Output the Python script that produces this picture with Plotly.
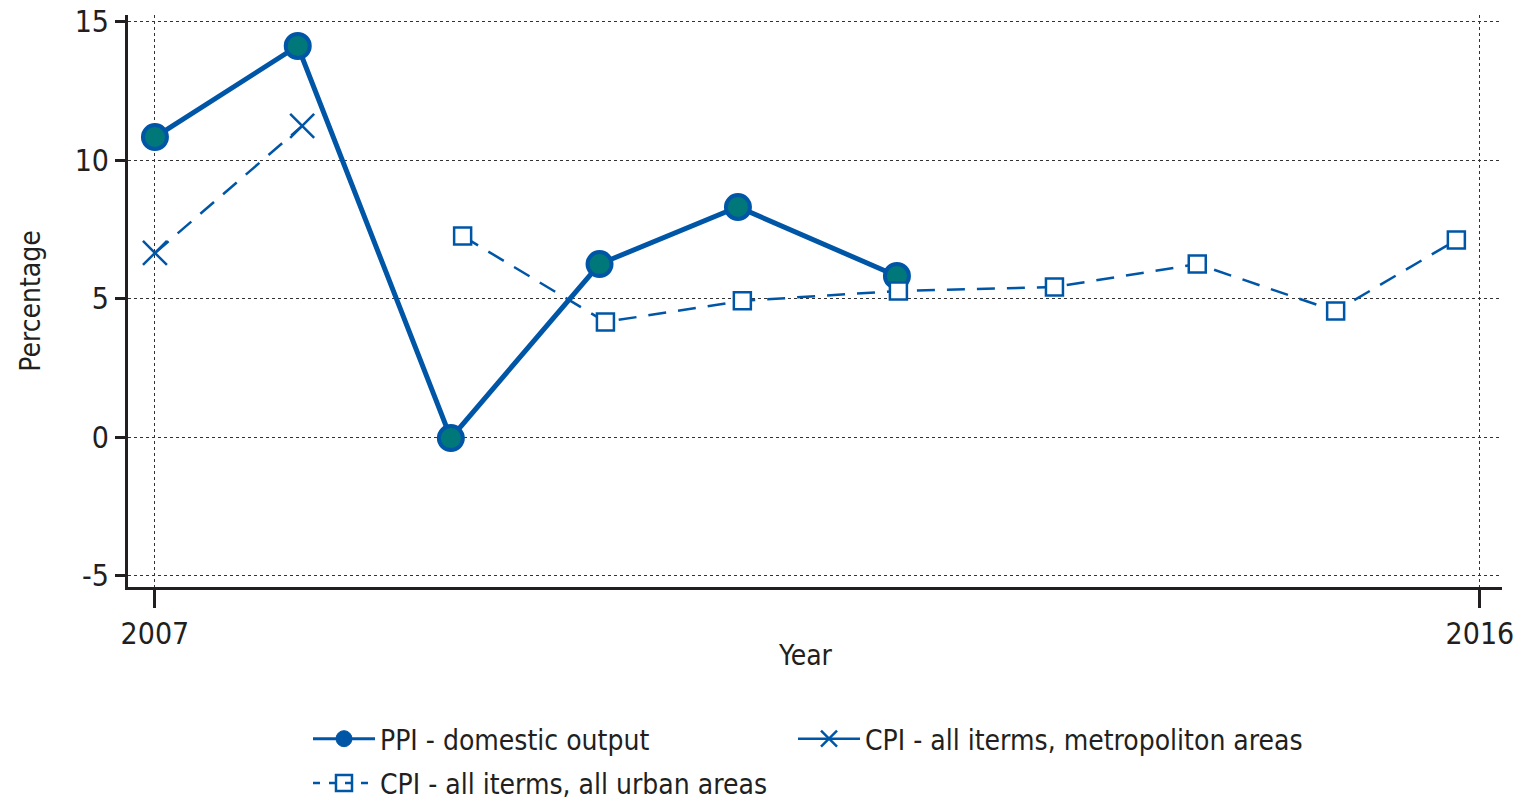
import plotly.graph_objects as go

# Annual change, percent
ppi_years = [2007.0, 2007.97, 2009.01, 2010.02, 2010.96, 2012.04]
ppi_values = [10.84, 14.13, -0.04, 6.25, 8.31, 5.82]

metro_years = [2007.0, 2008.0]
metro_values = [6.65, 11.24]

urban_years = [2009.09, 2010.06, 2010.99, 2012.05, 2013.11, 2014.08, 2015.02, 2015.84]
urban_values = [7.26, 4.16, 4.92, 5.28, 5.42, 6.25, 4.55, 7.12]

x_ticks = [2007, 2016]
y_ticks = [-5, 0, 5, 10, 15]

BLUE = "#0056a6"
TEAL = "#00787a"
INK = "#231f20"
FONT = "Liberation Sans Narrow, DejaVu Sans Condensed, Arial Narrow, sans-serif"
DASH = "18px,12px"

fig = go.Figure()

fig.add_trace(go.Scatter(
    x=ppi_years, y=ppi_values, mode="lines+markers",
    name="PPI - domestic output", showlegend=False,
    line=dict(color=BLUE, width=5),
    marker=dict(symbol="circle", size=24, color=TEAL, line=dict(color=BLUE, width=4)),
))

fig.add_trace(go.Scatter(
    x=metro_years, y=metro_values, mode="lines+markers",
    name="CPI - all iterms, metropoliton areas", showlegend=False,
    line=dict(color=BLUE, width=2.5, dash=DASH),
    marker=dict(symbol="x-thin", size=24, color=BLUE, line=dict(color=BLUE, width=2.5)),
))

fig.add_trace(go.Scatter(
    x=urban_years, y=urban_values, mode="lines+markers",
    name="CPI - all iterms, all urban areas", showlegend=False,
    line=dict(color=BLUE, width=2.5, dash=DASH),
    marker=dict(symbol="square", size=17, color="white", line=dict(color=BLUE, width=2.5)),
))

# Legend keys (no data, styled swatches only)
fig.add_trace(go.Scatter(
    x=[None], y=[None], mode="lines+markers", name="PPI - domestic output",
    legendgroup="ppi", legendrank=1,
    line=dict(color=BLUE, width=3),
    marker=dict(symbol="circle", size=22, color=BLUE, line=dict(color=BLUE, width=1)),
))
fig.add_trace(go.Scatter(
    x=[None], y=[None], mode="lines+markers", name="CPI - all iterms, all urban areas",
    legendgroup="urban", legendrank=2,
    line=dict(color=BLUE, width=2.5, dash="7px,9px"),
    marker=dict(symbol="square-open", size=22, color=BLUE, line=dict(color=BLUE, width=2.5)),
))
fig.add_trace(go.Scatter(
    x=[None], y=[None], mode="lines+markers", name="CPI - all iterms, metropoliton areas",
    legend="legend2",
    line=dict(color=BLUE, width=2.5),
    marker=dict(symbol="x-thin", size=26, color=BLUE, line=dict(color=BLUE, width=2.5)),
))

legend_font = dict(size=28, family=FONT, color=INK)

fig.update_layout(
    width=1520, height=801,
    margin=dict(l=128, r=18, t=15, b=214, autoexpand=False),
    paper_bgcolor="white", plot_bgcolor="white",
    font=dict(family=FONT, color=INK, size=28),
    showlegend=True,
    legend=dict(
        orientation="v", x=0.131, y=-0.222, xanchor="left", yanchor="top",
        font=legend_font, itemwidth=62, tracegroupgap=5,
        bgcolor="rgba(0,0,0,0)",
    ),
    legend2=dict(
        orientation="v", x=0.484, y=-0.222, xanchor="left", yanchor="top",
        font=legend_font, itemwidth=62,
        bgcolor="rgba(0,0,0,0)",
    ),
    annotations=[dict(
        text="Year", xref="paper", yref="paper", x=0.493, y=-0.119,
        xanchor="center", yanchor="middle", showarrow=False,
        font=dict(size=28, family=FONT, color=INK),
    )],
)

fig.update_xaxes(
    range=[2006.817, 2016.15],
    tickvals=x_ticks, ticktext=[str(v) for v in x_ticks],
    tickfont=dict(size=30, family=FONT, color=INK),
    showline=True, linecolor=INK, linewidth=3,
    ticks="outside", ticklen=18, tickwidth=3, tickcolor=INK,
    showgrid=True, gridcolor="#333333", gridwidth=1, griddash="dot",
    zeroline=False, automargin=False,
)

fig.update_yaxes(
    range=[-5.42, 15.25],
    tickvals=y_ticks, ticktext=["-5", "0", "5", "10", "15"],
    tickfont=dict(size=30, family=FONT, color=INK),
    showline=True, linecolor=INK, linewidth=3,
    ticks="outside", ticklen=10, tickwidth=3, tickcolor=INK,
    showgrid=True, gridcolor="#333333", gridwidth=1, griddash="dot",
    zeroline=False, automargin=False,
    title=dict(text="Percentage", font=dict(size=28, family=FONT, color=INK), standoff=26),
)

fig.write_html("out.html")
